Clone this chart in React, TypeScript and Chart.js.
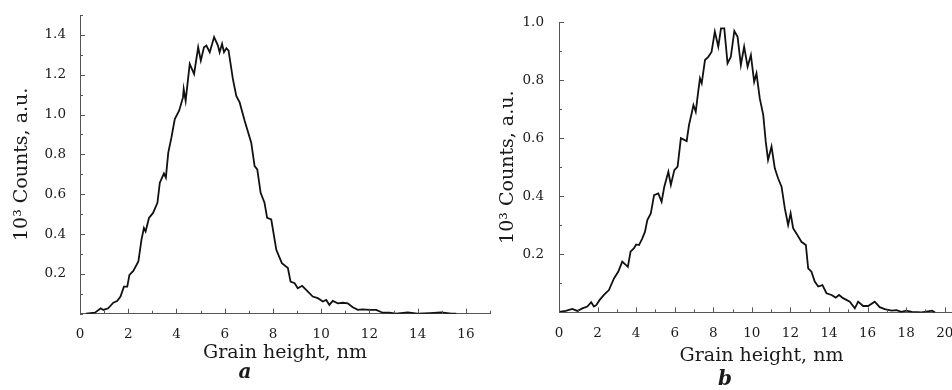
import React, { useEffect, useRef } from "react";
import { Chart, registerables } from "chart.js";

Chart.register(...registerables);

// ---------- Data ----------
const heightA = [
  0.25, 0.62, 0.86, 0.97, 1.17, 1.38, 1.54, 1.68, 1.82, 1.96,
  2.05, 2.21, 2.42, 2.55, 2.65, 2.72, 2.86, 3.03, 3.21, 3.31,
  3.48, 3.56, 3.66, 3.79, 3.93, 4.11, 4.27, 4.3, 4.38, 4.55,
  4.73, 4.9, 5.01, 5.14, 5.24, 5.38, 5.56, 5.72, 5.79, 5.89,
  5.97, 6.07, 6.16, 6.34, 6.48, 6.62, 6.83, 7.1, 7.24, 7.35,
  7.49, 7.65, 7.76, 7.93, 8.14, 8.37, 8.62, 8.73, 8.9, 9.03,
  9.21, 9.45, 9.65, 9.86, 10.07, 10.21, 10.34, 10.48, 10.69, 10.9,
  11.1, 11.31, 11.52, 11.72, 12.0, 12.28, 12.55, 12.83, 13.1, 13.59,
  14.0, 14.5, 14.97, 15.4, 15.6,
];
const countsA = [
  0, 0.005, 0.027, 0.019, 0.027, 0.055, 0.064, 0.086, 0.136, 0.136,
  0.195, 0.215, 0.262, 0.372, 0.43, 0.413, 0.481, 0.506, 0.557, 0.658,
  0.704, 0.683, 0.809, 0.884, 0.977, 1.019, 1.086, 1.128, 1.069, 1.254,
  1.204, 1.338, 1.271, 1.338, 1.346, 1.313, 1.389, 1.346, 1.313, 1.355,
  1.313, 1.333, 1.321, 1.178, 1.094, 1.061, 0.968, 0.859, 0.741, 0.725,
  0.607, 0.557, 0.481, 0.473, 0.321, 0.254, 0.229, 0.161, 0.153, 0.128,
  0.14, 0.111, 0.086, 0.078, 0.061, 0.069, 0.044, 0.064, 0.052, 0.055,
  0.052, 0.032, 0.019, 0.022, 0.019, 0.019, 0.005, 0.005, 0, 0.007,
  0, 0.003, 0.007, 0, 0,
];

const heightB = [
  0, 0.35, 0.69, 0.95, 1.21, 1.47, 1.67, 1.81, 1.93, 2.11,
  2.33, 2.59, 2.85, 3.07, 3.28, 3.42, 3.57, 3.71, 3.89, 4.0,
  4.15, 4.32, 4.46, 4.58, 4.76, 4.93, 5.15, 5.32, 5.46, 5.67,
  5.8, 5.98, 6.15, 6.32, 6.62, 6.74, 6.88, 6.97, 7.09, 7.23,
  7.31, 7.4, 7.57, 7.74, 7.91, 8.08, 8.26, 8.4, 8.57, 8.74,
  8.91, 9.09, 9.26, 9.43, 9.6, 9.78, 9.95, 10.12, 10.24, 10.41,
  10.59, 10.72, 10.84, 11.02, 11.19, 11.36, 11.54, 11.71, 11.88, 12.01,
  12.14, 12.31, 12.57, 12.8, 12.92, 13.09, 13.26, 13.44, 13.66, 13.87,
  14.13, 14.35, 14.52, 14.73, 15.08, 15.34, 15.51, 15.77, 16.03, 16.37,
  16.63, 16.89, 17.24, 17.5, 17.75, 18.0, 18.3, 18.8, 19.35, 19.5,
];
const countsB = [
  0.002, 0.005, 0.012, 0.005, 0.014, 0.02, 0.035, 0.02, 0.025, 0.043,
  0.06, 0.077, 0.117, 0.14, 0.175, 0.166, 0.157, 0.209, 0.221, 0.234,
  0.232, 0.255, 0.278, 0.318, 0.341, 0.404, 0.41, 0.381, 0.433, 0.484,
  0.439, 0.49, 0.502, 0.6, 0.59, 0.645, 0.686, 0.714, 0.691, 0.766,
  0.806, 0.789, 0.869, 0.88, 0.897, 0.967, 0.915, 0.978, 0.978, 0.858,
  0.88, 0.969, 0.949, 0.852, 0.915, 0.846, 0.886, 0.794, 0.823, 0.737,
  0.68, 0.588, 0.525, 0.571, 0.496, 0.462, 0.433, 0.358, 0.301, 0.341,
  0.29, 0.272, 0.243, 0.232, 0.152, 0.14, 0.106, 0.089, 0.094, 0.066,
  0.06, 0.051, 0.06, 0.049, 0.037, 0.014, 0.037, 0.022, 0.022, 0.037,
  0.018, 0.011, 0.006, 0.008, 0.002, 0.006, 0.002, 0, 0.006, 0,
];

const xTitle = "Grain height, nm";
const yTitle = "10³ Counts, a.u.";
const panelLabels = ["a", "b"];

const FONT = "'DejaVu Serif', serif";
const AXIS_COLOR = "#555";
const TEXT_COLOR = "#1a1a1a";

const isEvenTenth = (v: number) => {
  const k = Math.round(v * 10);
  return k > 0 && k % 2 === 0;
};
const isEvenInt = (v: number) => Math.round(v) % 2 === 0;

const inwardTicks = {
  id: "inwardTicks",
  afterDraw(chart: any) {
    const { ctx, chartArea } = chart;
    const xs = chart.scales.x;
    const ys = chart.scales.y;
    ctx.save();
    ctx.strokeStyle = AXIS_COLOR;
    ctx.lineWidth = 1;
    ctx.beginPath();
    xs.ticks.forEach((t: any) => {
      const px = Math.round(xs.getPixelForValue(t.value)) + 0.5;
      const len = isEvenInt(t.value) ? 5 : 3;
      ctx.moveTo(px, chartArea.bottom);
      ctx.lineTo(px, chartArea.bottom - len);
    });
    ys.ticks.forEach((t: any) => {
      const py = Math.round(ys.getPixelForValue(t.value)) + 0.5;
      const len = isEvenTenth(t.value) ? 5 : 3;
      ctx.moveTo(chartArea.left, py);
      ctx.lineTo(chartArea.left + len, py);
    });
    ctx.stroke();
    ctx.restore();
  },
};

type PanelCfg = {
  xs: number[];
  ys: number[];
  xMax: number;
  yMax: number;
  yAxisWidth: number;
  xAxisHeight: number;
  padTop: number;
  padRight: number;
  yLabelPad: number;
  xTitlePadBottom: number;
  labelPadBottom: number;
  label: string;
};

function Panel({ cfg, left, width }: { cfg: PanelCfg; left: number; width: number }) {
  const ref = useRef<HTMLCanvasElement | null>(null);
  useEffect(() => {
    if (!ref.current) return;
    const data = cfg.xs.map((x, i) => ({ x, y: cfg.ys[i] }));
    const chart = new Chart(ref.current, {
      type: "line",
      data: {
        datasets: [
          {
            data,
            borderColor: "#111",
            borderWidth: 1.8,
            pointRadius: 0,
            tension: 0,
            fill: false,
          },
        ],
      },
      options: {
        animation: false,
        responsive: false,
        devicePixelRatio: 1,
        layout: { padding: { left: 0, top: cfg.padTop, right: cfg.padRight, bottom: 0 } },
        plugins: {
          legend: { display: false },
          tooltip: { enabled: false },
          title: {
            display: true,
            position: "bottom",
            text: cfg.label,
            color: TEXT_COLOR,
            font: { family: FONT, size: 20, weight: "bold", style: "italic", lineHeight: 1 },
            padding: { top: 0, bottom: cfg.labelPadBottom },
          },
        },
        scales: {
          x: {
            type: "linear",
            min: 0,
            max: cfg.xMax,
            grid: { display: false },
            border: { display: true, color: AXIS_COLOR, width: 1 },
            ticks: {
              stepSize: 1,
              autoSkip: false,
              maxRotation: 0,
              padding: 5,
              color: TEXT_COLOR,
              font: { family: FONT, size: 13.5 },
              callback: (v: any) => (isEvenInt(Number(v)) && Number(v) < cfg.xMax - 0.5 ? String(Math.round(Number(v))) : ""),
            },
            title: {
              display: true,
              text: xTitle,
              color: TEXT_COLOR,
              font: { family: FONT, size: 19, lineHeight: 1 },
              padding: { top: 0, bottom: cfg.xTitlePadBottom },
            },
            afterFit: (scale: any) => {
              scale.height = cfg.xAxisHeight;
            },
          },
          y: {
            type: "linear",
            min: 0,
            max: cfg.yMax,
            grid: { display: false },
            border: { display: true, color: AXIS_COLOR, width: 1 },
            ticks: {
              stepSize: 0.1,
              autoSkip: false,
              padding: cfg.yLabelPad,
              color: TEXT_COLOR,
              font: { family: FONT, size: 13.5 },
              callback: (v: any) => (isEvenTenth(Number(v)) ? (Math.round(Number(v) * 10) / 10).toFixed(1) : ""),
            },
            title: {
              display: true,
              text: yTitle,
              color: TEXT_COLOR,
              font: { family: FONT, size: 19, lineHeight: 1.2 },
              padding: { top: 11, bottom: 0 },
            },
            afterFit: (scale: any) => {
              scale.width = cfg.yAxisWidth;
            },
          },
        },
      } as any,
      plugins: [inwardTicks],
    });
    return () => chart.destroy();
  }, [cfg]);
  return (
    <canvas
      ref={ref}
      width={width}
      height={390}
      style={{ position: "absolute", left, top: 0, width, height: 390 }}
    />
  );
}

const cfgA: PanelCfg = {
  xs: heightA,
  ys: countsA,
  xMax: 17,
  yMax: 1.5,
  yAxisWidth: 80,
  xAxisHeight: 49.3,
  padTop: 15,
  padRight: 5,
  yLabelPad: 6,
  xTitlePadBottom: 0,
  labelPadBottom: 7,
  label: panelLabels[0],
};

const cfgB: PanelCfg = {
  xs: heightB,
  ys: countsB,
  xMax: 21,
  yMax: 1.0,
  yAxisWidth: 73,
  xAxisHeight: 57.6,
  padTop: 22,
  padRight: 10,
  yLabelPad: 7,
  xTitlePadBottom: 4,
  labelPadBottom: 0,
  label: panelLabels[1],
};

export default function App() {
  return (
    <div
      style={{
        position: "fixed",
        left: 0,
        top: 0,
        width: 952,
        height: 390,
        overflow: "hidden",
        background: "#fff",
      }}
    >
      <Panel cfg={cfgA} left={0} width={495} />
      <Panel cfg={cfgB} left={486} width={488} />
    </div>
  );
}
